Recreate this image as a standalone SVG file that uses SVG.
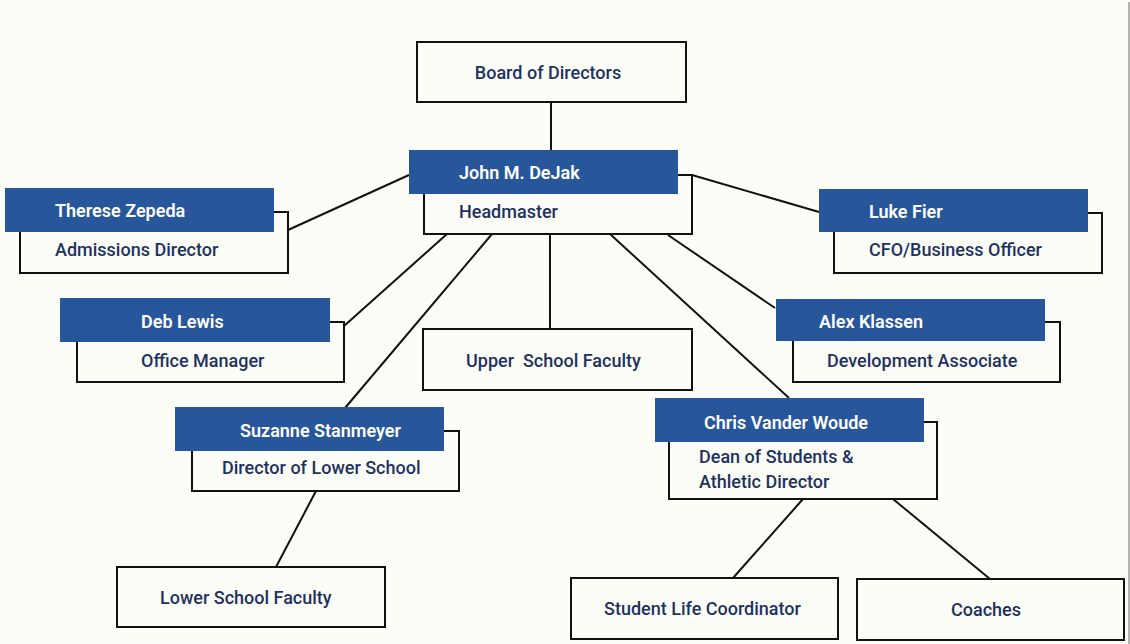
<svg xmlns="http://www.w3.org/2000/svg" width="1130" height="644" viewBox="0 0 1130 644">
<style>
.bg{fill:#fdfdf8}
.box{fill:#fdfdf8;stroke:#111;stroke-width:2}
.hdr{fill:#27579a}
.ln{stroke:#111;stroke-width:2;fill:none}
text{font-family:Roboto,"Liberation Sans",sans-serif;font-size:18px}
.t{fill:#1e3260;font-weight:500}
.n{fill:#ffffff;font-weight:600}
</style>
<rect class="bg" x="0" y="0" width="1130" height="644"/>
<line x1="1129" y1="2" x2="1129" y2="644" stroke="#999" stroke-width="1.5"/>
<g id="connectors">
<line class="ln" x1="551" y1="102" x2="551" y2="150"/>
<line class="ln" x1="409" y1="175" x2="288" y2="230"/>
<line class="ln" x1="692" y1="175" x2="819" y2="212"/>
<line class="ln" x1="447" y1="234" x2="344" y2="326"/>
<line class="ln" x1="492" y1="234" x2="345" y2="408"/>
<line class="ln" x1="550" y1="234" x2="550" y2="329"/>
<line class="ln" x1="610" y1="234" x2="789" y2="398"/>
<line class="ln" x1="668" y1="235" x2="775" y2="308"/>
<line class="ln" x1="316" y1="491" x2="276" y2="567"/>
<line class="ln" x1="803" y1="499" x2="733" y2="578"/>
<line class="ln" x1="893" y1="499" x2="990" y2="579"/>
</g>
<g id="board">
<rect class="box" x="417" y="42" width="269" height="60"/>
<text class="t" x="548" y="79" text-anchor="middle">Board of Directors</text>
</g>
<g id="dejak">
<rect class="box" x="424" y="175" width="268" height="59"/>
<rect class="hdr" x="409" y="150" width="269" height="44"/>
<text class="n" x="459" y="179">John M. DeJak</text>
<text class="t" x="459" y="218">Headmaster</text>
</g>
<g id="zepeda">
<rect class="box" x="20" y="212" width="268" height="61"/>
<rect class="hdr" x="5" y="188" width="269" height="44"/>
<text class="n" x="55" y="217">Therese Zepeda</text>
<text class="t" x="55" y="256">Admissions Director</text>
</g>
<g id="lewis">
<rect class="box" x="77" y="322" width="267" height="60"/>
<rect class="hdr" x="60" y="298" width="270" height="44"/>
<text class="n" x="141" y="328">Deb Lewis</text>
<text class="t" x="141" y="367">Office Manager</text>
</g>
<g id="stanmeyer">
<rect class="box" x="192" y="431" width="267" height="60"/>
<rect class="hdr" x="175" y="407" width="269" height="44"/>
<text class="n" x="240" y="437">Suzanne Stanmeyer</text>
<text class="t" x="222" y="474">Director of Lower School</text>
</g>
<g id="lower-faculty">
<rect class="box" x="117" y="567" width="268" height="60"/>
<text class="t" x="160" y="604">Lower School Faculty</text>
</g>
<g id="upper-faculty">
<rect class="box" x="423" y="329" width="269" height="61"/>
<text class="t" x="466" y="367" xml:space="preserve">Upper  School Faculty</text>
</g>
<g id="fier">
<rect class="box" x="834" y="213" width="268" height="60"/>
<rect class="hdr" x="819" y="189" width="269" height="43"/>
<text class="n" x="869" y="218">Luke Fier</text>
<text class="t" x="869" y="256">CFO/Business Officer</text>
</g>
<g id="klassen">
<rect class="box" x="793" y="322" width="267" height="60"/>
<rect class="hdr" x="776" y="299" width="269" height="42"/>
<text class="n" x="819" y="328">Alex Klassen</text>
<text class="t" x="827" y="367">Development Associate</text>
</g>
<g id="vanderwoude">
<rect class="box" x="669" y="422" width="268" height="77"/>
<rect class="hdr" x="655" y="398" width="269" height="44"/>
<text class="n" x="704" y="429">Chris Vander Woude</text>
<text class="t" x="699" y="463">Dean of Students &amp;</text>
<text class="t" x="699" y="488">Athletic Director</text>
</g>
<g id="student-life">
<rect class="box" x="571" y="578" width="267" height="61"/>
<text class="t" x="604" y="615">Student Life Coordinator</text>
</g>
<g id="coaches">
<rect class="box" x="857" y="579" width="267" height="61"/>
<text class="t" x="986" y="616" text-anchor="middle">Coaches</text>
</g>
</svg>
